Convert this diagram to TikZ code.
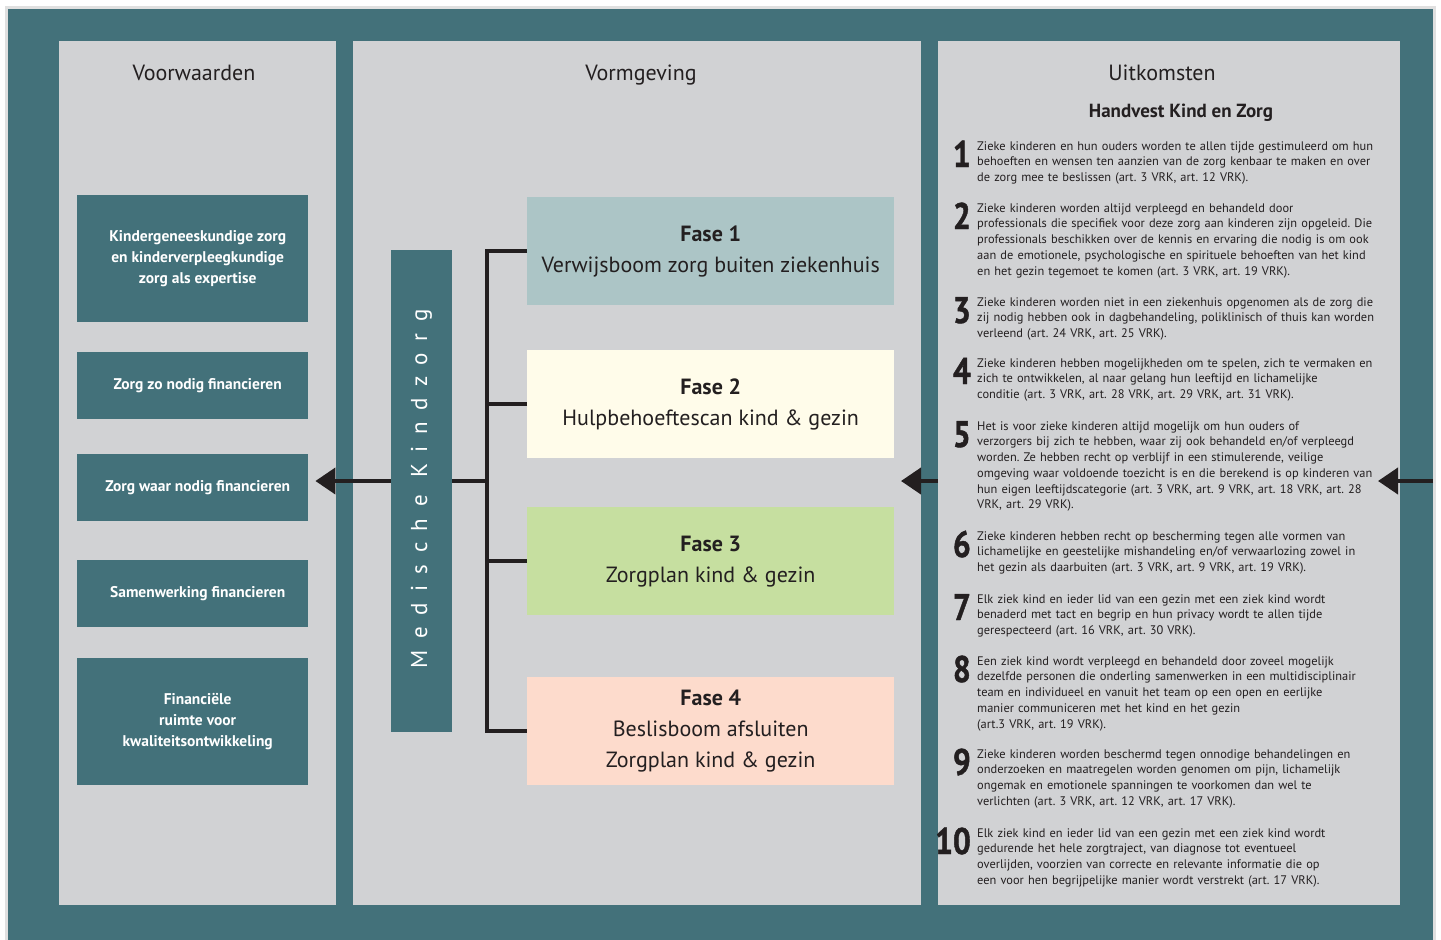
\documentclass[tikz,border=0pt]{standalone}
\usepackage{fontspec}
\setmainfont{PT Sans}
\newfontfamily\cijferfont[FakeStretch=0.85,BoldFeatures={FakeBold=1.2}]{PT Sans}
\usetikzlibrary{arrows.meta,positioning}
\definecolor{kzteal}{HTML}{43717A}
\definecolor{kzgrijs}{HTML}{D1D2D4}
\definecolor{kzdonker}{HTML}{231F20}
\definecolor{fasea}{HTML}{ACC5C6}
\definecolor{faseb}{HTML}{FFFCEA}
\definecolor{fasec}{HTML}{C6DFA0}
\definecolor{fased}{HTML}{FDDBCC}
\frenchspacing
\tikzset{
  paneel/.style={fill=kzgrijs,inner sep=0pt,anchor=north west,minimum height=864pt},
  kop/.style={anchor=base,text=kzdonker,font=\fontsize{22}{26}\selectfont},
  voorw/.style={fill=kzteal,inner sep=0pt,anchor=north west,minimum width=231pt},
  voorwtekst/.style={text=white,inner sep=0pt,align=center,font=\fontsize{15.5}{21}\selectfont\bfseries},
  fase/.style={inner sep=0pt,anchor=north west,minimum width=367pt,minimum height=108pt,align=center,text=kzdonker,font=\fontsize{22}{31}\selectfont},
  nummer/.style={anchor=base east,inner sep=0pt,text=kzdonker,font=\cijferfont\fontsize{37}{37}\selectfont\bfseries},
  punt/.style={anchor=base west,inner sep=0pt,text=kzdonker,text width=430pt,align=left,font=\fontsize{12.4}{15.75}\selectfont},
  lijn/.style={draw=kzdonker,line width=4pt},
  pijl/.style={lijn,-{Triangle[length=20pt,width=26pt]}},
}
\begin{document}
\begin{tikzpicture}[x=1pt,y=-1pt]
\useasboundingbox (0,0) rectangle (1441,940);
\fill[white] (0,0) rectangle (1441,940);
\fill[black!12] (5,6) rectangle (1436,940);
\fill[kzteal] (8,9) rectangle (1433,940);
\node[paneel,minimum width=277pt] (pvoor) at (59,41) {};
\node[paneel,minimum width=568pt] (pvorm) at (353,41) {};
\node[paneel,minimum width=462pt] (puit) at (938,41) {};
\node[kop] (tvoor) at (194,80) {Voorwaarden};
\node[kop] (tvorm) at (641,80) {Vormgeving};
\node[kop] (tuit) at (1162,80) {Uitkomsten};
\node[kop,font=\fontsize{19}{21}\selectfont\bfseries] (handvest) at (1181,117) {Handvest Kind en Zorg};
\foreach \vy/\vh/\vnaam/\vlb in {195/127/v1/{Kindergeneeskundige zorg\\en kinderverpleegkundige\\zorg als expertise},352/67/v2/{Zorg zo nodig financieren},454/67/v3/{Zorg waar nodig financieren},560/67/v4/{Samenwerking financieren},658/127/v5/{Financiële\\ruimte voor\\kwaliteitsontwikkeling}}{
\node[voorw,minimum height=\vh pt] (\vnaam) at (77,\vy) {};
\node[voorwtekst] (t\vnaam) at ([xshift=5pt]\vnaam.center) {\vlb};
}
\node[fill=kzteal,inner sep=0pt,anchor=north west,minimum width=61pt,minimum height=482pt] (balk) at (391,250) {};
\node[rotate=90,text=white,font=\fontsize{23}{23}\selectfont\addfontfeature{LetterSpace=50}] (balktekst) at (421.5,489) {Medische Kindzorg};
\foreach \fy/\fkleur/\fnaam/\flb in {197/fasea/f1/{\textbf{Fase 1}\\Verwijsboom zorg buiten ziekenhuis},350/faseb/f2/{\textbf{Fase 2}\\Hulpbehoeftescan kind \& gezin},507/fasec/f3/{\textbf{Fase 3}\\Zorgplan kind \& gezin},677/fased/f4/{\textbf{Fase 4}\\Beslisboom afsluiten\\Zorgplan kind \& gezin}}{\node[fase,fill=\fkleur] (\fnaam) at (527,\fy) {\flb};}
\coordinate (splits) at (487,481);
\draw[lijn] (f1.west) -- (f1.west -| splits) -- (f4.west -| splits) -- (f4.west);
\foreach \fnaam in {f2,f3}{\draw[lijn] (\fnaam.west) -- (\fnaam.west -| splits);}
\draw[lijn] (balk.east |- splits) -- (splits);
\draw[pijl,shorten >=7pt] (balk.west |- splits) -- (v3.east |- splits);
\coordinate (uitpijl) at (901,481);
\draw[pijl] (puit.west |- splits) -- (uitpijl);
\coordinate (randpijl) at (1433,481);
\coordinate (handvestpijl) at (1378,481);
\draw[pijl] (randpijl) -- (handvestpijl);
\foreach \py/\pnr/\plb in {150/1/{Zieke kinderen en hun ouders worden te allen tijde gestimuleerd om hun\\behoeften en wensen ten aanzien van de zorg kenbaar te maken en over\\de zorg mee te beslissen (art. 3 VRK, art. 12 VRK).},
212/2/{Zieke kinderen worden altijd verpleegd en behandeld door\\professionals die specifiek voor deze zorg aan kinderen zijn opgeleid. Die\\professionals beschikken over de kennis en ervaring die nodig is om ook\\aan de emotionele, psychologische en spirituele behoeften van het kind\\en het gezin tegemoet te komen (art. 3 VRK, art. 19 VRK).},
306/3/{Zieke kinderen worden niet in een ziekenhuis opgenomen als de zorg die\\zij nodig hebben ook in dagbehandeling, poliklinisch of thuis kan worden\\verleend (art. 24 VRK, art. 25 VRK).},
367/4/{Zieke kinderen hebben mogelijkheden om te spelen, zich te vermaken en\\zich te ontwikkelen, al naar gelang hun leeftijd en lichamelijke\\conditie (art. 3 VRK, art. 28 VRK, art. 29 VRK, art. 31 VRK).},
430/5/{Het is voor zieke kinderen altijd mogelijk om hun ouders of\\verzorgers bij zich te hebben, waar zij ook behandeld en/of verpleegd\\worden. Ze hebben recht op verblijf in een stimulerende, veilige\\omgeving waar voldoende toezicht is en die berekend is op kinderen van\\hun eigen leeftijdscategorie (art. 3 VRK, art. 9 VRK, art. 18 VRK, art. 28\\VRK, art. 29 VRK).},
540/6/{Zieke kinderen hebben recht op bescherming tegen alle vormen van\\lichamelijke en geestelijke mishandeling en/of verwaarlozing zowel in\\het gezin als daarbuiten (art. 3 VRK, art. 9 VRK, art. 19 VRK).},
603/7/{Elk ziek kind en ieder lid van een gezin met een ziek kind wordt\\benaderd met tact en begrip en hun privacy wordt te allen tijde\\gerespecteerd (art. 16 VRK, art. 30 VRK).},
665/8/{Een ziek kind wordt verpleegd en behandeld door zoveel mogelijk\\dezelfde personen die onderling samenwerken in een multidisciplinair\\team en individueel en vanuit het team op een open en eerlijke\\manier communiceren met het kind en het gezin\\(art.3 VRK, art. 19 VRK).},
758/9/{Zieke kinderen worden beschermd tegen onnodige behandelingen en\\onderzoeken en maatregelen worden genomen om pijn, lichamelijk\\ongemak en emotionele spanningen te voorkomen dan wel te\\verlichten (art. 3 VRK, art. 12 VRK, art. 17 VRK).},
837/10/{Elk ziek kind en ieder lid van een gezin met een ziek kind wordt\\gedurende het hele zorgtraject, van diagnose tot eventueel\\overlijden, voorzien van correcte en relevante informatie die op\\een voor hen begrijpelijke manier wordt verstrekt (art. 17 VRK).}}{
\node[nummer] (nr\pnr) at (971,\py+17) {\pnr};
\node[punt] (punt\pnr) at (977,\py) {\plb};
}
\end{tikzpicture}
\end{document}
